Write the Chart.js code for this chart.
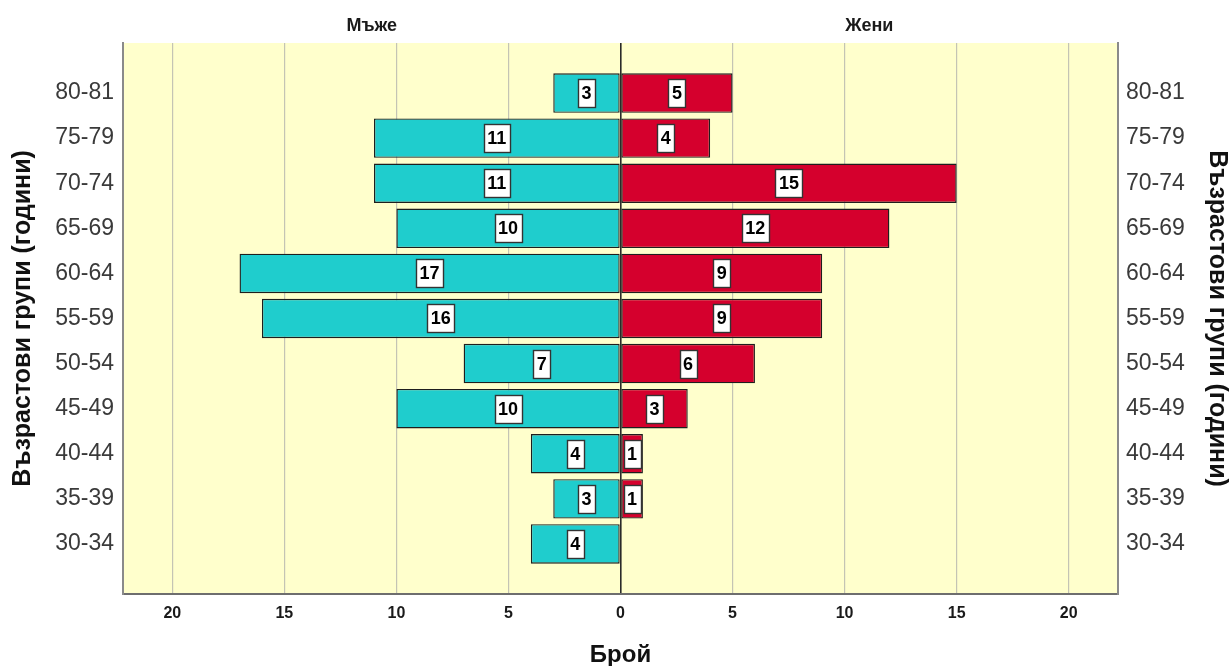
<!DOCTYPE html>
<html>
<head>
<meta charset="utf-8">
<script src="https://cdn.jsdelivr.net/npm/chart.js@4.4.1/dist/chart.umd.min.js"></script>
<style>
  html, body { margin: 0; padding: 0; background: #ffffff; }
  #wrap { width: 1232px; height: 666px; }
</style>
</head>
<body>
<div id="wrap"><canvas id="c" width="1232" height="666"></canvas></div>
<script>
// ---- data (bottom to top) ----
const categories = ['30-34','35-39','40-44','45-49','50-54','55-59','60-64','65-69','70-74','75-79','80-81'];
const maleCounts   = [4, 3, 4, 10, 7, 16, 17, 10, 11, 11, 3];
const femaleCounts = [0, 1, 1, 3, 6, 9, 9, 12, 15, 4, 5];
const xTickValues = [-20, -15, -10, -5, 0, 5, 10, 15, 20];
const groupLabels = ['Мъже', 'Жени'];
const axisTitleY = 'Възрастови групи (години)';
const axisTitleX = 'Брой';

const FONT = "'Liberation Sans', Arial, sans-serif";

const malePoints = maleCounts.map((v, i) => ({ x: v === 0 ? null : -v, y: i }));
const femalePoints = femaleCounts.map((v, i) => ({ x: v === 0 ? null : v, y: i }));

const bgPlugin = {
  id: 'bgPlugin',
  beforeDraw(chart) {
    const { ctx, chartArea: a } = chart;
    ctx.save();
    ctx.fillStyle = '#ffffcc';
    ctx.fillRect(a.left, a.top, a.right - a.left, a.bottom - a.top);
    ctx.restore();
  }
};

const headPlugin = {
  id: 'headPlugin',
  afterDraw(chart) {
    const { ctx, chartArea: a } = chart;
    const x0 = chart.scales.x.getPixelForValue(0);
    ctx.save();
    ctx.font = 'bold 18px ' + FONT;
    ctx.fillStyle = '#1a1a1a';
    ctx.textAlign = 'center';
    ctx.textBaseline = 'middle';
    ctx.fillText(groupLabels[0], (a.left + x0) / 2, a.top - 17);
    ctx.fillText(groupLabels[1], (a.right + x0) / 2, a.top - 17);
    ctx.restore();
  }
};

const labelPlugin = {
  id: 'labelPlugin',
  afterDatasetsDraw(chart) {
    const { ctx } = chart;
    const sources = [maleCounts, femaleCounts];
    ctx.save();
    ctx.font = 'bold 18px ' + FONT;
    ctx.textAlign = 'center';
    ctx.textBaseline = 'middle';
    chart.data.datasets.forEach((ds, di) => {
      const meta = chart.getDatasetMeta(di);
      meta.data.forEach((el, i) => {
        const v = sources[di][i];
        if (!v) return;
        const cx = (el.x + el.base) / 2;
        const cy = el.y;
        const txt = String(v);
        const tw = ctx.measureText(txt).width;
        const w = Math.round(tw + 7), h = 28;
        const bx = Math.round(cx - w / 2) + 0.5, by = Math.round(cy - h / 2) + 0.5;
        ctx.fillStyle = '#ffffff';
        ctx.fillRect(bx, by, w, h);
        ctx.strokeStyle = '#333333';
        ctx.lineWidth = 1.4;
        ctx.strokeRect(bx, by, w, h);
        ctx.fillStyle = '#000000';
        ctx.fillText(txt, cx, cy + 1);
      });
    });
    ctx.restore();
  }
};

const yTicks = {
  padding: 9,
  color: '#3a3a3a',
  font: { family: FONT, size: 23 },
  callback: (v) => categories[v] !== undefined ? categories[v] : ''
};

new Chart(document.getElementById('c'), {
  type: 'bar',
  data: {
    datasets: [
      {
        label: groupLabels[0],
        data: malePoints,
        backgroundColor: '#1fcdcd',
        borderColor: '#1e1e1e',
        borderWidth: 1.4,
        borderSkipped: false,
        barPercentage: 0.875,
        categoryPercentage: 1.0,
        yAxisID: 'y'
      },
      {
        label: groupLabels[1],
        data: femalePoints,
        backgroundColor: '#d5002d',
        borderColor: '#1e1e1e',
        borderWidth: 1.4,
        borderSkipped: false,
        barPercentage: 0.875,
        categoryPercentage: 1.0,
        yAxisID: 'y'
      }
    ]
  },
  options: {
    indexAxis: 'y',
    responsive: false,
    animation: false,
    layout: { padding: { top: 43, left: 0, right: 0, bottom: 0 } },
    plugins: {
      legend: { display: false },
      tooltip: { enabled: false },
      title: { display: false }
    },
    scales: {
      x: {
        type: 'linear',
        stacked: true,
        min: -22.2,
        max: 22.2,
        afterBuildTicks: (s) => { s.ticks = xTickValues.map(v => ({ value: v })); },
        afterFit: (s) => { s.height = 72; },
        ticks: {
          padding: 10,
          color: '#1a1a1a',
          font: { family: FONT, size: 16, weight: 'bold' },
          callback: (v) => String(Math.abs(v))
        },
        grid: {
          drawTicks: false,
          color: (c) => (c.tick && c.tick.value === 0) ? '#2a2a2a' : '#c4c4b4',
          lineWidth: (c) => (c.tick && c.tick.value === 0) ? 1.6 : 1.2
        },
        border: { display: true, color: '#6e6e6e', width: 2 },
        title: {
          display: true,
          text: axisTitleX,
          color: '#111111',
          font: { family: FONT, size: 24, weight: 'bold', lineHeight: 0.875 },
          padding: { top: 0, bottom: 0 }
        }
      },
      y: {
        type: 'linear',
        position: 'left',
        stacked: true,
        offset: false,
        min: -1.11,
        max: 11.11,
        afterBuildTicks: (s) => { s.ticks = categories.map((_, i) => ({ value: i })); },
        afterFit: (s) => { s.width = 123; },
        ticks: yTicks,
        grid: { display: false, drawTicks: false, offset: false },
        border: { display: true, color: '#8a8a8a', width: 2 },
        title: {
          display: true,
          text: axisTitleY,
          color: '#111111',
          font: { family: FONT, size: 25, weight: 'bold' },
          padding: { top: 8, bottom: 0 }
        }
      },
      y2: {
        type: 'linear',
        position: 'right',
        offset: false,
        min: -1.11,
        max: 11.11,
        afterBuildTicks: (s) => { s.ticks = categories.map((_, i) => ({ value: i })); },
        afterFit: (s) => { s.width = 114; },
        ticks: Object.assign({}, yTicks, { padding: 8 }),
        grid: { display: false, drawTicks: false, offset: false },
        border: { display: true, color: '#8a8a8a', width: 2 },
        title: {
          display: true,
          text: axisTitleY,
          color: '#111111',
          font: { family: FONT, size: 25, weight: 'bold' },
          padding: { top: 0, bottom: 0 }
        }
      }
    }
  },
  plugins: [bgPlugin, labelPlugin, headPlugin]
});
</script>
</body>
</html>
